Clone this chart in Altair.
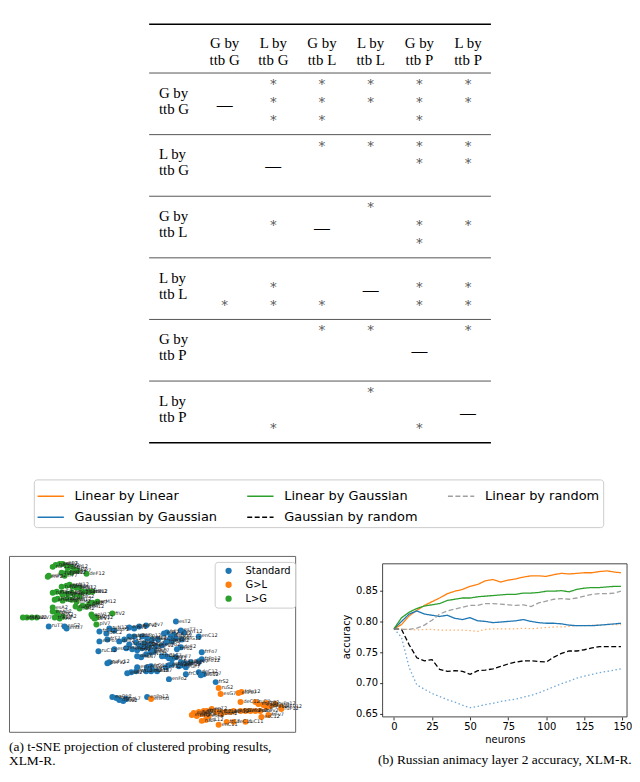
import altair as alt
import pandas as pd

# ---------------- significance table ----------------
TABLE_LABELS = ["G by\nttb G", "L by\nttb G", "G by\nttb L", "L by\nttb L", "G by\nttb P", "L by\nttb P"]
# "-" = diagonal; otherwise three slots, "*" = significant in that slot
TABLE_CELLS = [
    ["-",   "***", "***", "**.", "***", "**."],
    ["...", "-",   "*..", "*..", "**.", "**."],
    ["...", ".*.", "-",   "*..", ".**", ".*."],
    ["..*", ".**", "..*", "-",   ".**", ".**"],
    ["...", "...", "*..", "*..", "-",   "*.."],
    ["...", "..*", "...", "*..", "..*", "-"],
]

# ---------------- line chart ----------------
NEURONS = [0, 5, 10, 15, 20, 25, 30, 35, 40, 45, 50, 55, 60, 65, 70, 75, 80, 85, 90, 95,
           100, 105, 110, 115, 120, 125, 130, 135, 140, 145, 149]
LIN_BY_LIN = [0.788, 0.795, 0.809, 0.818, 0.826, 0.832, 0.838, 0.845, 0.849, 0.852, 0.857, 0.860,
              0.866, 0.868, 0.864, 0.867, 0.869, 0.872, 0.874, 0.874, 0.873, 0.876, 0.878, 0.877,
              0.878, 0.879, 0.879, 0.881, 0.882, 0.880, 0.879]
LIN_BY_GAUSS = [0.788, 0.806, 0.815, 0.821, 0.825, 0.827, 0.829, 0.834, 0.836, 0.838, 0.838, 0.840,
                0.841, 0.842, 0.843, 0.844, 0.844, 0.846, 0.846, 0.847, 0.849, 0.849, 0.850, 0.848,
                0.852, 0.854, 0.855, 0.855, 0.856, 0.857, 0.857]
LIN_BY_RAND = [0.788, 0.787, 0.787, 0.789, 0.794, 0.802, 0.812, 0.817, 0.820, 0.823, 0.826, 0.826,
               0.829, 0.829, 0.828, 0.827, 0.826, 0.827, 0.824, 0.830, 0.833, 0.836, 0.837, 0.836,
               0.838, 0.841, 0.844, 0.845, 0.845, 0.846, 0.849]
GAUSS_BY_GAUSS = [0.788, 0.800, 0.812, 0.817, 0.812, 0.810, 0.808, 0.810, 0.805, 0.803, 0.806, 0.801,
                  0.800, 0.798, 0.799, 0.800, 0.801, 0.803, 0.800, 0.798, 0.797, 0.797, 0.796, 0.794,
                  0.793, 0.793, 0.793, 0.794, 0.795, 0.796, 0.797]
GAUSS_BY_RAND = [0.788, 0.787, 0.762, 0.741, 0.736, 0.738, 0.722, 0.719, 0.720, 0.719, 0.714, 0.720,
                 0.721, 0.723, 0.727, 0.731, 0.734, 0.736, 0.736, 0.735, 0.734, 0.742, 0.748, 0.752,
                 0.752, 0.754, 0.757, 0.759, 0.759, 0.759, 0.759]
LIN_DOTTED = [0.788, 0.787, 0.787, 0.786, 0.787, 0.787, 0.786, 0.786, 0.786, 0.786, 0.785, 0.784,
              0.787, 0.788, 0.788, 0.788, 0.788, 0.789, 0.788, 0.789, 0.790, 0.791, 0.791, 0.792,
              0.793, 0.793, 0.794, 0.794, 0.795, 0.795, 0.795]
GAUSS_DOTTED = [0.788, 0.774, 0.725, 0.697, 0.690, 0.683, 0.678, 0.673, 0.669, 0.664, 0.660, 0.662,
                0.665, 0.667, 0.670, 0.672, 0.674, 0.677, 0.680, 0.684, 0.689, 0.694, 0.699, 0.703,
                0.708, 0.711, 0.714, 0.717, 0.719, 0.721, 0.723]
# legend order (column-major, 3 columns x 2 rows)
SERIES_NAMES = ["Linear by Linear", "Gaussian by Gaussian", "Linear by Gaussian",
                "Gaussian by random", "Linear by random"]
SERIES_VALUES = [LIN_BY_LIN, GAUSS_BY_GAUSS, LIN_BY_GAUSS, GAUSS_BY_RAND, LIN_BY_RAND]
SERIES_COLORS = ["#ff7f0e", "#1f77b4", "#2ca02c", "#000000", "#a0a0a0"]
SERIES_DASHES = [[1, 0], [1, 0], [1, 0], [5, 2.5], [5, 2.5]]

# ---------------- t-SNE projection ----------------
STANDARD_PTS = [
    (-104, 18, "ruT7"), (-88, 18, "esG2"), (-86, 16, "enG7"),
    (-53, 13, "frC12"), (-46, 11, "deC2"), (-43, 16, "ruN12"), (-38, 14, "esP2"), (-23, 17, "enC7"),
    (-18, 16, "frT2"), (-13, 18, "deFv2"), (-6, 19, "ruFv7"), (24, 23, "esT2"),
    (-53, 3, "enPo7"), (-45, 5, "frT7"), (-33, 3, "deT2"), (-28, 5, "ruT12"), (-23, 8, "esN2"),
    (-18, 8, "enN7"), (-10, 8, "frPo12"), (-5, 6, "deN12"), (0, 5, "ruC2"), (6, 5, "esC7"),
    (12, 11, "enF2"), (15, 12, "frF7"), (19, 8, "deFv12"), (22, 10, "ruF12"), (29, 14, "esT7"),
    (32, 12, "enT12"), (24, 6, "frN7"), (30, 5, "deG12"),
    (-23, 0, "ruG12"), (-16, 2, "esC12"), (-13, -1, "enC2"), (-8, 1, "frG2"), (-5, -1, "deG7"),
    (-2, 0, "ruP2"), (4, -2, "esF12"), (10, -1, "enPo2"), (14, 2, "frPo7"), (17, 4, "deP2"), (20, 3, "ruPo2"),
    (-26, -4, "esPo12"), (-20, -5, "enG12"), (-15, -6, "frC2"), (-10, -4, "deC12"), (-6, -3, "ruC7"),
    (-1, -6, "esF7"), (2, -7, "enT7"), (25, -5, "frPo2"), (29, -3, "deF2"), (-54, -7, "ruC12"),
    (-38, -5, "esC2"), (47, 8, "enC12"), (50, -8, "frFo7"),
    (-15, -12, "deT7"), (-11, -13, "ruN7"), (-6, -10, "esN12"), (-1, -8, "enN2"), (10, -12, "frC11"),
    (14, -12, "deC7"), (17, -14, "ruF7"), (20, -15, "esF2"), (24, -13, "enF7"), (29, -18, "frT12"),
    (32, -19, "deT12"), (35, -20, "ruT2"), (39, -18, "esFv7"), (47, -17, "enFo12"), (50, -15, "frPo12"),
    (-45, -19, "deFv2"), (-43, -18, "ruFv12"),
    (-15, -23, "esG7"), (-5, -23, "enG2"), (-1, -22, "frG12"), (0, -25, "deG7"), (14, -23, "ruG2"),
    (17, -21, "esP12"), (20, -20, "enP12"), (27, -22, "frP7"), (30, -21, "deP12"), (34, -23, "ruP7"),
    (-25, -29, "esA2"), (-21, -28, "enA7"), (-16, -27, "frA12"), (-6, -27, "deA2"), (-1, -27, "ruA12"),
    (5, -27, "esA7"), (17, -35, "enFo2"), (34, -30, "frC7"), (47, -28, "deC12"), (49, -31, "ruC12"),
    (52, -30, "esPo7"),
    (-40, -53, "enG12"), (-36, -54, "frG7"), (-33, -56, "deG2"), (-29, -57, "ruL2"), (-26, -55, "esL7"),
    (-5, -53, "enPo12"), (64, -38, "frS2"),
]
GL_PTS = [
    (67, -44, "ruS2"), (69, -50, "esG7"), (87, -49, "enPo7"), (90, -48, "frPo12"), (89, -58, "deC12"),
    (104, -58, "ruC7"), (107, -60, "esP12"), (112, -61, "enP7"), (115, -59, "frP2"), (119, -62, "deG12"),
    (124, -60, "ruPo12"), (130, -63, "esFv12"), (130, -65, "ruP12"),
    (60, -65, "enT2"), (55, -67, "frT7"), (52, -67, "deT12"), (47, -68, "ruN2"), (42, -69, "esN7"),
    (40, -71, "enN12"), (45, -72, "frF2"), (49, -70, "deF7"), (54, -71, "ruF12"), (57, -72, "esC2"),
    (64, -68, "enC7"), (69, -68, "frC12"), (70, -70, "deA2"), (74, -68, "ruA7"), (79, -68, "esA12"),
    (82, -67, "enG2"), (89, -67, "frG7"), (94, -67, "deP2"), (99, -67, "ruPo2"), (104, -67, "esPo7"),
    (109, -67, "enFv2"), (117, -71, "frFv7"), (115, -63, "deFv12"),
    (50, -77, "ruL7"), (54, -76, "esL12"), (67, -81, "enC11"), (75, -78, "frC7"), (82, -78, "deC11"),
    (94, -78, "ruC11"), (110, -73, "esC12"), (-1, -55, "enPod"),
]
LG_PTS = [
    (-100, 78, "ruP12"), (-97, 80, "ruP7"), (-93, 81, "esP12"), (-90, 81, "enP7"), (-86, 79, "frP2"),
    (-85, 77, "deP7"), (-81, 78, "trP12"), (-78, 75, "fiP2"), (-75, 74, "plP7"), (-81, 72, "arP2"),
    (-86, 72, "hiP12"), (-91, 72, "ruPo7"), (-104, 69, "esPo2"), (-105, 68, "enF2"), (-88, 69, "frF7"),
    (-66, 71, "deF12"),
    (-91, 58, "ruN2"), (-86, 59, "esN7"), (-83, 60, "enN12"), (-80, 58, "frN2"), (-76, 57, "deN7"),
    (-73, 57, "trN12"), (-70, 53, "fiN2"), (-66, 53, "plN7"), (-63, 53, "arN12"), (-60, 53, "hiN2"),
    (-100, 52, "ruG7"), (-96, 53, "esG2"), (-91, 52, "enG12"), (-90, 50, "frG7"), (-85, 51, "deG2"),
    (-81, 52, "trG12"), (-78, 50, "fiG7"), (-73, 48, "plG2"), (-98, 45, "arG7"), (-95, 46, "hiG12"),
    (-90, 44, "ruM2"), (-85, 46, "esM7"), (-81, 45, "enM12"), (-76, 43, "frM2"), (-70, 39, "deM7"),
    (-66, 38, "trM12"), (-63, 41, "fiM2"), (-60, 42, "plM7"), (-55, 43, "arM12"), (-73, 36, "hiM2"),
    (-77, 38, "ruA7"), (-100, 37, "esA2"), (-100, 33, "enA12"), (-96, 32, "frA7"), (-95, 30, "deA2"),
    (-98, 27, "trA12"), (-93, 26, "fiA7"), (-90, 28, "plA2"), (-130, 27, "arA7"), (-126, 27, "hiA12"),
    (-121, 27, "ruV2"), (-116, 27, "esV7"), (-61, 30, "enV12"), (-60, 28, "frV2"), (-58, 26, "deV7"),
    (-56, 27, "trV12"), (-40, 31, "fiV2"), (-56, 20, "plV7"),
]

# ================= table chart =================
ROW_H = 62.0
head_rows, label_rows, star_rows, dash_rows = [], [], [], []
for j, lab in enumerate(TABLE_LABELS):
    l1, l2 = lab.split("\n")
    head_rows += [{"c": j + 1, "u": -30 / ROW_H, "t": l1}, {"c": j + 1, "u": -13 / ROW_H, "t": l2}]
    label_rows += [{"c": -0.35, "u": j + 20 / ROW_H, "t": l1}, {"c": -0.35, "u": j + 36 / ROW_H, "t": l2}]
for i, row in enumerate(TABLE_CELLS):
    for j, cell in enumerate(row):
        if cell == "-":
            dash_rows.append({"c": j + 1, "u": i + 32 / ROW_H, "t": "\u2014"})
        else:
            for s, ch in enumerate(cell):
                if ch == "*":
                    star_rows.append({"c": j + 1, "u": i + (9 + 18 * s) / ROW_H, "t": "\u2217"})

heavy_rules = pd.DataFrame({"u": [-49 / ROW_H, 6.0], "c0": [-0.55, -0.55], "c1": [6.47, 6.47]})
light_rules = pd.DataFrame({"u": [0.0, 1.0, 2.0, 3.0, 4.0, 5.0], "c0": [-0.55] * 6, "c1": [6.47] * 6})

TX = alt.Scale(domain=[-3.4286, 9.2245], nice=False, zero=False)
TY = alt.Scale(domain=[-63 / ROW_H, 485 / ROW_H], nice=False, zero=False, reverse=True)


def tpos():
    return dict(x=alt.X("c:Q", scale=TX, axis=None), y=alt.Y("u:Q", scale=TY, axis=None), text="t:N")


def rule_enc():
    return dict(x=alt.X("c0:Q", scale=TX, axis=None), x2="c1:Q", y=alt.Y("u:Q", scale=TY, axis=None))


serif = "Liberation Serif"
t_heavy = alt.Chart(heavy_rules).mark_rule(color="black", strokeWidth=1.5).encode(**rule_enc())
t_light = alt.Chart(light_rules).mark_rule(color="#555555", strokeWidth=1).encode(**rule_enc())
t_head = alt.Chart(pd.DataFrame(head_rows)).mark_text(font=serif, fontSize=15, baseline="middle",
                                                      align="center", color="black").encode(**tpos())
t_lab = alt.Chart(pd.DataFrame(label_rows)).mark_text(font=serif, fontSize=15, baseline="middle",
                                                      align="left", color="black").encode(**tpos())
t_star = alt.Chart(pd.DataFrame(star_rows)).mark_text(font="DejaVu Serif", fontSize=13, baseline="middle",
                                                      align="center", color="#555555").encode(**tpos())
t_dash = alt.Chart(pd.DataFrame(dash_rows)).mark_text(font=serif, fontSize=16, baseline="middle",
                                                      align="center", color="black").encode(**tpos())
table = alt.layer(t_heavy, t_light, t_head, t_lab, t_star, t_dash).properties(width=620, height=548)

# ================= t-SNE scatter =================
sc_rows = []
for grp, pts in [("Standard", STANDARD_PTS), ("G>L", GL_PTS), ("L>G", LG_PTS)]:
    for x, y, lab in pts:
        sc_rows.append({"x": x, "y": y, "label": lab, "group": grp})
sc_df = pd.DataFrame(sc_rows)
SX = alt.Scale(domain=[-144, 144], nice=False, zero=False)
SY = alt.Scale(domain=[-88, 89], nice=False, zero=False)
sc_points = alt.Chart(sc_df).mark_circle(size=36, opacity=1).encode(
    x=alt.X("x:Q", scale=SX, axis=None),
    y=alt.Y("y:Q", scale=SY, axis=None),
    color=alt.Color("group:N",
                    scale=alt.Scale(domain=["Standard", "G>L", "L>G"], range=["#1f77b4", "#ff7f0e", "#2ca02c"]),
                    legend=alt.Legend(title=None, orient="none", legendX=207, legendY=555,
                                      symbolType="circle", symbolSize=40, symbolStrokeWidth=0,
                                      labelFont="DejaVu Sans", labelFontSize=10, labelColor="black",
                                      labelOffset=12, rowPadding=4, padding=4, symbolOffset=5,
                                      strokeColor="#cccccc", fillColor="rgba(255,255,255,0.85)",
                                      cornerRadius=3)),
)
sc_labels = alt.Chart(sc_df).mark_text(align="left", baseline="middle", dx=3, dy=-1, fontSize=5,
                                       font="DejaVu Sans", color="#222222").encode(
    x=alt.X("x:Q", scale=SX, axis=None), y=alt.Y("y:Q", scale=SY, axis=None), text="label:N")
scatter = alt.layer(sc_points, sc_labels).properties(
    width=288, height=177,
    view=alt.ViewBackground(stroke="#666666", strokeWidth=1),
    title=alt.TitleParams(["(a) t-SNE projection of clustered probing results,", "XLM-R."],
                          orient="bottom", anchor="start", font=serif, fontSize=13.5,
                          fontWeight="normal", color="black", lineHeight=14, offset=8),
)

# ================= accuracy lines =================
main_rows = []
for name, vals in zip(SERIES_NAMES, SERIES_VALUES):
    for n, v in zip(NEURONS, vals):
        main_rows.append({"neurons": n, "accuracy": v, "series": name})
main_df = pd.DataFrame(main_rows)
lin_dot_df = pd.DataFrame({"neurons": NEURONS, "accuracy": LIN_DOTTED})
gau_dot_df = pd.DataFrame({"neurons": NEURONS, "accuracy": GAUSS_DOTTED})

X_LO, X_HI = -7.45, 153.0
Y_LO, Y_FRAME_HI, Y_VIEW_HI = 0.645, 0.8935, 0.9063
LX = alt.Scale(domain=[X_LO, X_HI], nice=False, zero=False)
LY = alt.Scale(domain=[Y_LO, Y_VIEW_HI], nice=False, zero=False)
ax_common = dict(domain=False, grid=False, tickSize=3, tickColor="black", tickWidth=0.8,
                 labelFont="DejaVu Sans", labelFontSize=10, labelColor="black", labelPadding=2,
                 titleFont="DejaVu Sans", titleFontSize=10, titleFontWeight="normal", titleColor="black")
x_enc = alt.X("neurons:Q", scale=LX,
              axis=alt.Axis(values=[0, 25, 50, 75, 100, 125, 150], title="neurons", titlePadding=3, **ax_common))
y_enc = alt.Y("accuracy:Q", scale=LY,
              axis=alt.Axis(values=[0.65, 0.70, 0.75, 0.80, 0.85], format=".2f", title="accuracy",
                            titlePadding=4, **ax_common))

leg = dict(title=None, orient="none", legendX=25, legendY=472, columns=3,
           symbolType="stroke", symbolSize=700, symbolStrokeWidth=1.5,
           labelFont="DejaVu Sans", labelFontSize=13, labelColor="black", labelOffset=10, labelLimit=300,
           rowPadding=-7, columnPadding=26, padding=3,
           strokeColor="#cccccc", fillColor="white", cornerRadius=3)

l_dot1 = alt.Chart(lin_dot_df).mark_line(strokeWidth=1.3, strokeDash=[1.5, 2.5], color="#ffb26e").encode(
    x=x_enc, y=y_enc)
l_dot2 = alt.Chart(gau_dot_df).mark_line(strokeWidth=1.3, strokeDash=[1.5, 2.5], color="#6fa8d6").encode(
    x=x_enc, y=y_enc)
l_main = alt.Chart(main_df).mark_line(strokeWidth=1.3).encode(
    x=x_enc, y=y_enc,
    stroke=alt.Stroke("series:N", scale=alt.Scale(domain=SERIES_NAMES, range=SERIES_COLORS),
                      legend=alt.Legend(**leg)),
    strokeDash=alt.StrokeDash("series:N", scale=alt.Scale(domain=SERIES_NAMES, range=SERIES_DASHES),
                              legend=alt.Legend(**leg)),
)
l_frame = alt.Chart(alt.Data(values=[{"f": 1}])).mark_rect(filled=False, stroke="#333333", strokeWidth=0.9).encode(
    x=alt.XDatum(X_LO, scale=LX, title="neurons"), x2=alt.X2Datum(X_HI),
    y=alt.YDatum(Y_LO, scale=LY, title="accuracy"), y2=alt.Y2Datum(Y_FRAME_HI))
lines = alt.layer(l_dot1, l_dot2, l_main, l_frame).properties(
    width=246, height=162,
    view=alt.ViewBackground(stroke=None),
    title=alt.TitleParams("(b) Russian animacy layer 2 accuracy, XLM-R.", orient="bottom", anchor="middle",
                          font=serif, fontSize=13.5, fontWeight="normal", color="black", offset=8),
)

bottom = alt.hconcat(scatter, lines, spacing=88, bounds="flush")
chart = alt.vconcat(table, bottom, spacing=0).properties(padding=0).configure_view(stroke=None)

chart.save("out.html", embed_options={"renderer": "svg", "actions": False})
